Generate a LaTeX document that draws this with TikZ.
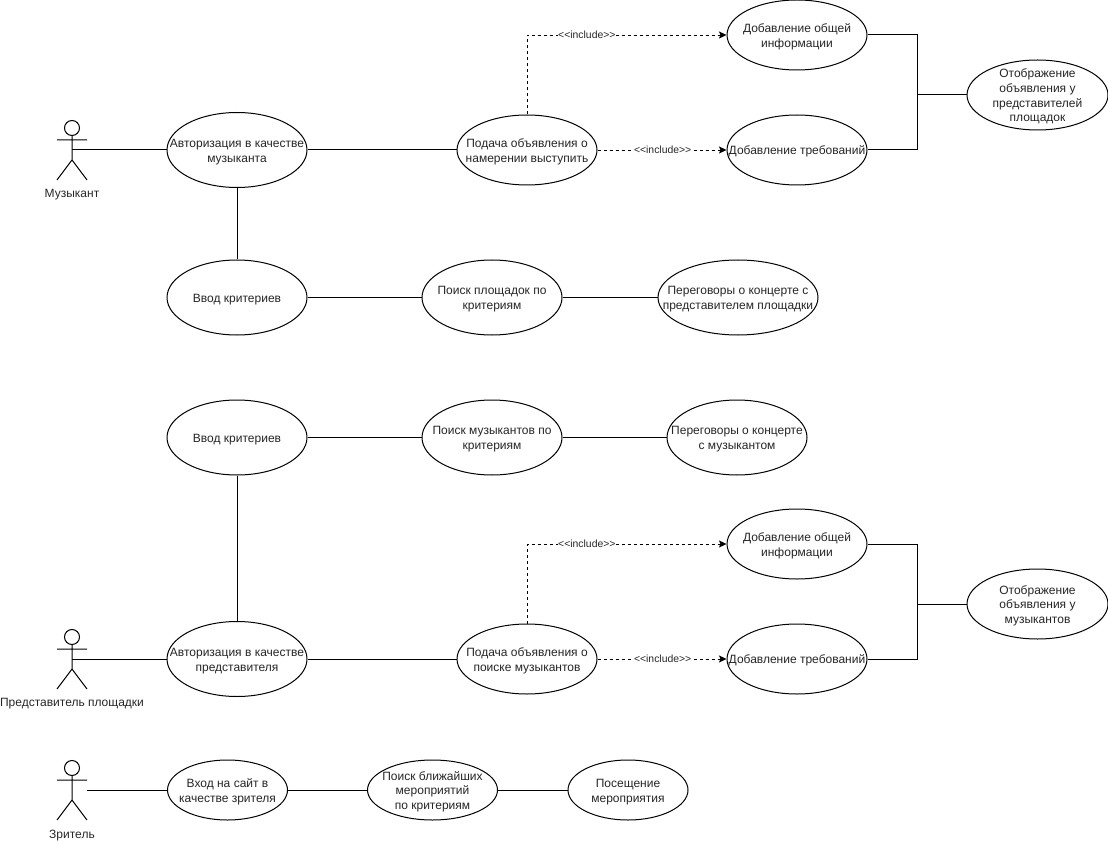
\documentclass[tikz,border=0pt]{standalone}
\usepackage{fontspec}
\setmainfont{Liberation Sans}
\usetikzlibrary{shapes.geometric,arrows.meta,calc}
% Centred multi-line text that does not influence the size of its ellipse
\newcommand{\uctext}[1]{\smash{\makebox[0pt][c]{\raisebox{-4.8pt}{\begin{tabular}{@{}c@{}}#1\end{tabular}}}}}
\tikzset{
  usecase/.style 2 args={ellipse,draw=black,line width=1pt,fill=white,inner sep=0pt,
    minimum width=#1,minimum height=#2,text=black!85,font=\fontsize{12}{14.6}\selectfont},
  assoc/.style={draw=black,line width=1pt},
  inc/.style={draw=black,line width=0.8pt,dash pattern=on 3pt off 3pt,
    -{Stealth[length=7.5pt,width=7pt,inset=1.5pt]}},
  inclabel/.style={fill=white,inner xsep=0.5pt,inner ysep=1pt,text=black!85,font=\fontsize{10.4}{12}\selectfont},
  actorlabel/.style={text=black!85,font=\fontsize{12}{14}\selectfont,inner sep=0pt},
  stick/.style={draw=black,line width=1pt},
}
% Stick figure: head, arms, body, legs; #1 is the figure's x, #2 the centre of its head
\newcommand{\actor}[2]{
  \draw[stick] (#1,#2) circle[radius=7.5];
  \draw[stick] (#1,#2+7.5) -- (#1,#2+32) (#1-15,#2+12) -- (#1+15,#2+12)
    (#1-15,#2+52) -- (#1,#2+32) -- (#1+15,#2+52);
}
\begin{document}
\begin{tikzpicture}[x=1pt,y=-1pt]
\useasboundingbox (0,0) rectangle (1108,842);

% Musician
\actor{72}{128}
\node[actorlabel] (musLabel) at (72,195) {Музыкант};
\coordinate (mus) at (72,150);
\node[usecase={140}{75}] (authM) at (237,150) {\uctext{Авторизация в качестве\\музыканта}};
\node[usecase={140}{70}] (postM) at (527,150) {\uctext{Подача объявления о\\намерении выступить}};
\node[usecase={140}{70}] (infoM) at (797,35) {\uctext{Добавление общей\\информации}};
\node[usecase={140}{70}] (reqM) at (797,150) {\uctext{Добавление требований}};
\node[usecase={141}{70}] (showM) at (1037.5,95) {\uctext{Отображение\\объявления у\\представителей\\площадок}};
\node[usecase={140}{75}] (critM) at (237,297.5) {\uctext{Ввод критериев}};
\node[usecase={140}{75}] (findM) at (492,297.5) {\uctext{Поиск площадок по\\критериям}};
\node[usecase={160}{75}] (talkM) at (738,297.5) {\uctext{Переговоры о концерте с\\представителем площадки}};
\coordinate (jointM) at (917,95);

\draw[assoc] (mus) -- (authM.west);
\draw[assoc] (authM.east) -- (postM.west);
\draw[assoc] (authM.south) -- (critM.north);
\draw[assoc] (critM.east) -- (findM.west);
\draw[assoc] (findM.east) -- (talkM.west);
\draw[assoc] (infoM.east) -| (jointM);
\draw[assoc] (reqM.east) -| (jointM);
\draw[assoc] (jointM) -- (showM.west);
\draw[inc] (postM.north) |- (infoM.west)
  node[inclabel,pos=0.65] (incM1) {<{}<include>{}>};
\draw[inc] (postM.east) -- (reqM.west)
  node[inclabel,pos=0.505] (incM2) {<{}<include>{}>};

% Venue representative
\actor{72}{637}
\node[actorlabel] (repLabel) at (72,704) {Представитель площадки};
\coordinate (rep) at (72,659);
\node[usecase={140}{75}] (authR) at (237,659) {\uctext{Авторизация в качестве\\представителя}};
\node[usecase={140}{70}] (postR) at (527,659) {\uctext{Подача объявления о\\поиске музыкантов}};
\node[usecase={140}{70}] (infoR) at (797,544) {\uctext{Добавление общей\\информации}};
\node[usecase={140}{70}] (reqR) at (797,659) {\uctext{Добавление требований}};
\node[usecase={141}{70}] (showR) at (1037.5,604) {\uctext{Отображение\\объявления у\\музыкантов}};
\node[usecase={140}{75}] (critR) at (237,437.5) {\uctext{Ввод критериев}};
\node[usecase={140}{75}] (findR) at (492,437.5) {\uctext{Поиск музыкантов по\\критериям}};
\node[usecase={140}{75}] (talkR) at (737,437.5) {\uctext{Переговоры о концерте\\с музыкантом}};
\coordinate (jointR) at (917,604);

\draw[assoc] (rep) -- (authR.west);
\draw[assoc] (authR.east) -- (postR.west);
\draw[assoc] (authR.north) -- (critR.south);
\draw[assoc] (critR.east) -- (findR.west);
\draw[assoc] (findR.east) -- (talkR.west);
\draw[assoc] (infoR.east) -| (jointR);
\draw[assoc] (reqR.east) -| (jointR);
\draw[assoc] (jointR) -- (showR.west);
\draw[inc] (postR.north) |- (infoR.west)
  node[inclabel,pos=0.65] (incR1) {<{}<include>{}>};
\draw[inc] (postR.east) -- (reqR.west)
  node[inclabel,pos=0.505] (incR2) {<{}<include>{}>};

% Spectator
\actor{72}{768}
\node[actorlabel] (specLabel) at (72,835.5) {Зритель};
\coordinate (spec) at (87,790);
\node[usecase={120}{60}] (enter) at (227.5,790) {\uctext{Вход на сайт в\\качестве зрителя}};
\node[usecase={130}{60}] (near) at (432.5,790) {\uctext{Поиск ближайших\\мероприятий\\по критериям}};
\node[usecase={120}{60}] (visit) at (628,790) {\uctext{Посещение\\мероприятия}};
\draw[assoc] (spec) -- (enter.west);
\draw[assoc] (enter.east) -- (near.west);
\draw[assoc] (near.east) -- (visit.west);
\end{tikzpicture}
\end{document}
